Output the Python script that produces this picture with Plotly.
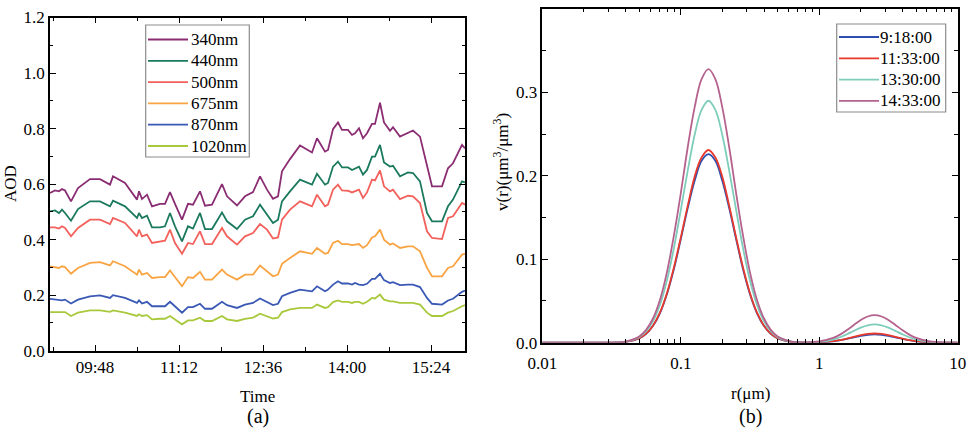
import plotly.graph_objects as go

# ---------------- data: panel (a) ----------------
times = ["09:03", "09:08", "09:12", "09:15", "09:18", "09:24", "09:31", "09:43", "09:53", "10:03",
         "10:06", "10:18", "10:30", "10:32", "10:35", "10:40", "10:45", "10:53", "10:58", "11:03",
         "11:08", "11:15", "11:21", "11:26", "11:33", "11:38", "11:45", "11:55", "12:00", "12:10",
         "12:18", "12:26", "12:33", "12:40", "12:46", "12:51", "12:55", "13:03", "13:13", "13:25",
         "13:30", "13:38", "13:41", "13:46", "13:51", "13:55", "14:01", "14:05", "14:08", "14:12",
         "14:16", "14:20", "14:25", "14:28", "14:33", "14:37", "14:43", "14:46", "14:53", "15:01",
         "15:06", "15:13", "15:20", "15:25", "15:35", "15:41", "15:46", "15:55", "15:58"]

aod_340 = [0.568, 0.577, 0.574, 0.582, 0.577, 0.538, 0.586, 0.618, 0.618, 0.598,
           0.628, 0.604, 0.544, 0.574, 0.546, 0.562, 0.520, 0.529, 0.529, 0.571,
           0.529, 0.472, 0.529, 0.526, 0.574, 0.522, 0.526, 0.600, 0.556, 0.523,
           0.556, 0.571, 0.628, 0.580, 0.547, 0.556, 0.646, 0.690, 0.739, 0.714,
           0.765, 0.717, 0.723, 0.798, 0.822, 0.795, 0.795, 0.777, 0.783, 0.801,
           0.765, 0.783, 0.817, 0.817, 0.893, 0.822, 0.792, 0.805, 0.771, 0.786,
           0.793, 0.771, 0.663, 0.592, 0.592, 0.657, 0.675, 0.741, 0.729]

aod_440 = [0.502, 0.505, 0.496, 0.508, 0.496, 0.468, 0.510, 0.538, 0.538, 0.520,
           0.540, 0.520, 0.478, 0.496, 0.478, 0.486, 0.444, 0.444, 0.448, 0.496,
           0.448, 0.394, 0.448, 0.440, 0.496, 0.438, 0.438, 0.498, 0.466, 0.438,
           0.472, 0.484, 0.526, 0.490, 0.460, 0.472, 0.538, 0.574, 0.616, 0.598,
           0.637, 0.598, 0.604, 0.663, 0.681, 0.660, 0.660, 0.651, 0.657, 0.663,
           0.634, 0.651, 0.699, 0.699, 0.741, 0.678, 0.663, 0.666, 0.628, 0.642,
           0.640, 0.610, 0.496, 0.466, 0.466, 0.520, 0.544, 0.610, 0.606]

aod_500 = [0.444, 0.444, 0.440, 0.448, 0.442, 0.412, 0.442, 0.472, 0.472, 0.456,
           0.478, 0.460, 0.412, 0.436, 0.412, 0.418, 0.388, 0.394, 0.396, 0.436,
           0.388, 0.349, 0.388, 0.384, 0.430, 0.384, 0.384, 0.442, 0.412, 0.382,
           0.412, 0.424, 0.456, 0.436, 0.404, 0.408, 0.472, 0.508, 0.538, 0.520,
           0.562, 0.520, 0.526, 0.580, 0.598, 0.577, 0.576, 0.570, 0.574, 0.580,
           0.550, 0.570, 0.616, 0.613, 0.649, 0.592, 0.574, 0.580, 0.546, 0.558,
           0.556, 0.532, 0.430, 0.406, 0.402, 0.478, 0.484, 0.532, 0.526]

aod_675 = [0.304, 0.302, 0.298, 0.304, 0.301, 0.277, 0.298, 0.316, 0.319, 0.307,
           0.322, 0.304, 0.274, 0.292, 0.274, 0.280, 0.262, 0.265, 0.265, 0.289,
           0.265, 0.232, 0.265, 0.262, 0.284, 0.256, 0.256, 0.292, 0.274, 0.256,
           0.274, 0.274, 0.307, 0.286, 0.268, 0.274, 0.313, 0.334, 0.358, 0.349,
           0.370, 0.349, 0.352, 0.388, 0.396, 0.384, 0.384, 0.380, 0.382, 0.384,
           0.370, 0.380, 0.408, 0.412, 0.436, 0.400, 0.382, 0.386, 0.370, 0.376,
           0.376, 0.358, 0.298, 0.268, 0.268, 0.298, 0.304, 0.346, 0.349]

aod_870 = [0.187, 0.184, 0.184, 0.181, 0.184, 0.170, 0.184, 0.196, 0.199, 0.190,
           0.200, 0.190, 0.172, 0.181, 0.170, 0.176, 0.160, 0.160, 0.160, 0.176,
           0.160, 0.137, 0.157, 0.157, 0.169, 0.151, 0.151, 0.176, 0.164, 0.154,
           0.166, 0.172, 0.188, 0.176, 0.164, 0.169, 0.196, 0.208, 0.220, 0.214,
           0.232, 0.214, 0.220, 0.238, 0.250, 0.242, 0.242, 0.238, 0.244, 0.238,
           0.236, 0.241, 0.259, 0.259, 0.277, 0.254, 0.244, 0.247, 0.236, 0.238,
           0.238, 0.229, 0.190, 0.169, 0.166, 0.181, 0.187, 0.212, 0.217]

aod_1020 = [0.139, 0.139, 0.137, 0.137, 0.139, 0.125, 0.137, 0.145, 0.145, 0.140,
            0.145, 0.137, 0.125, 0.131, 0.125, 0.128, 0.113, 0.115, 0.115, 0.125,
            0.113, 0.095, 0.109, 0.109, 0.119, 0.107, 0.107, 0.125, 0.113, 0.107,
            0.115, 0.119, 0.133, 0.125, 0.116, 0.119, 0.139, 0.149, 0.154, 0.154,
            0.166, 0.154, 0.157, 0.175, 0.181, 0.176, 0.176, 0.172, 0.176, 0.176,
            0.169, 0.176, 0.190, 0.188, 0.202, 0.184, 0.178, 0.178, 0.172, 0.172,
            0.172, 0.166, 0.137, 0.125, 0.125, 0.137, 0.143, 0.160, 0.164]

wave_names = ["340nm", "440nm", "500nm", "675nm", "870nm", "1020nm"]
time_ticks = ["09:48", "11:12", "12:36", "14:00", "15:24"]
time_minor = ["09:06", "10:30", "11:54", "13:18", "14:42"]
aod_ticks = [0.0, 0.2, 0.4, 0.6, 0.8, 1.0, 1.2]

# ---------------- data: panel (b) ----------------
r_um = [0.01, 0.0158, 0.0251, 0.0316, 0.0398, 0.0501, 0.0562, 0.0631, 0.0708, 0.0794,
        0.0891, 0.1, 0.1122, 0.1259, 0.1413, 0.1585, 0.1778, 0.1995, 0.2239, 0.2512,
        0.2818, 0.3162, 0.3548, 0.3981, 0.4467, 0.5012, 0.631, 0.7943, 1.0, 1.259,
        1.413, 1.585, 1.778, 1.995, 2.239, 2.512, 2.818, 3.162, 3.548, 3.981,
        4.467, 5.012, 6.31, 7.943, 10.0]

v_0918 = [0, 0, 0, 0.0001, 0.0010, 0.0052, 0.0106, 0.0202, 0.0355, 0.0581,
          0.0879, 0.124, 0.161, 0.194, 0.218, 0.226, 0.218, 0.194, 0.161, 0.124,
          0.0879, 0.0581, 0.0355, 0.0202, 0.0106, 0.0052, 0.0010, 0.0002, 0.0004, 0.0017,
          0.0030, 0.0046, 0.0064, 0.0082, 0.0095, 0.010, 0.0095, 0.0082, 0.0064, 0.0046,
          0.0030, 0.0017, 0.0004, 0.0001, 0]
v_1133 = [0, 0, 0, 0.0001, 0.0010, 0.0053, 0.0109, 0.0207, 0.0363, 0.0594,
          0.0899, 0.126, 0.164, 0.199, 0.222, 0.231, 0.222, 0.199, 0.164, 0.126,
          0.0899, 0.0594, 0.0363, 0.0207, 0.0109, 0.0053, 0.0010, 0.0002, 0.0005, 0.0019,
          0.0032, 0.0050, 0.0071, 0.0091, 0.0105, 0.011, 0.0105, 0.0091, 0.0071, 0.0050,
          0.0032, 0.0019, 0.0005, 0.0001, 0]
v_1330 = [0, 0, 0, 0.0002, 0.0013, 0.0067, 0.0136, 0.0259, 0.0455, 0.0745,
          0.113, 0.159, 0.206, 0.249, 0.279, 0.290, 0.279, 0.249, 0.206, 0.159,
          0.113, 0.0745, 0.0455, 0.0259, 0.0136, 0.0067, 0.0013, 0.0004, 0.0010, 0.0038,
          0.0065, 0.0101, 0.0142, 0.0181, 0.0209, 0.022, 0.0209, 0.0181, 0.0142, 0.0101,
          0.0065, 0.0038, 0.0010, 0.0002, 0]
v_1433 = [0, 0, 0, 0.0002, 0.0014, 0.0075, 0.0154, 0.0293, 0.0515, 0.0843,
          0.128, 0.179, 0.234, 0.282, 0.316, 0.328, 0.316, 0.282, 0.234, 0.179,
          0.128, 0.0843, 0.0515, 0.0293, 0.0154, 0.0075, 0.0014, 0.0005, 0.0015, 0.0057,
          0.0097, 0.0151, 0.0213, 0.0272, 0.0314, 0.033, 0.0314, 0.0272, 0.0213, 0.0151,
          0.0097, 0.0057, 0.0015, 0.0003, 0]

psd_names = ["9:18:00", "11:33:00", "13:30:00", "14:33:00"]
r_ticks = [0.01, 0.1, 1, 10]
r_tick_text = ["0.01", "0.1", "1", "10"]
v_ticks = [0.0, 0.1, 0.2, 0.3, 0.4]

# ---------------- styling ----------------
W, H = 969, 431
FONT = "Liberation Serif, Times New Roman, Times, DejaVu Serif, serif"
FS = 17


def fx(p):
    return p / W


def fy(p):
    return 1 - p / H


wave_colors = ["#8a2d72", "#1b7a5e", "#f2615c", "#f9a443", "#3a59b4", "#a9c93c"]
psd_colors = ["#2d4eb0", "#e83a2c", "#7ecdbb", "#b5628e"]

D = "2000-01-01 "
fig = go.Figure()

for name, vals, col in zip(wave_names,
                           [aod_340, aod_440, aod_500, aod_675, aod_870, aod_1020],
                           wave_colors):
    fig.add_trace(go.Scatter(x=[D + t for t in times], y=vals, mode="lines", name=name,
                             line=dict(color=col, width=1.8), xaxis="x", yaxis="y",
                             showlegend=False))

for name, vals, col in zip(psd_names, [v_0918, v_1133, v_1330, v_1433], psd_colors):
    fig.add_trace(go.Scatter(x=r_um, y=vals, mode="lines", name=name,
                             line=dict(color=col, width=1.8, shape="spline", smoothing=1.0),
                             xaxis="x2", yaxis="y2", showlegend=False))

axis_common = dict(showline=True, linecolor="black", linewidth=1.5, mirror="allticks",
                   ticks="inside", ticklen=6, tickwidth=1.3, tickcolor="black",
                   showgrid=False, zeroline=False, automargin=False,
                   tickfont=dict(family=FONT, size=FS, color="black"))
minor_common = dict(ticks="inside", ticklen=3.5, tickwidth=1.3, tickcolor="black",
                    showgrid=False)

fig.update_layout(
    width=W, height=H,
    margin=dict(l=0, r=0, t=0, b=0),
    paper_bgcolor="white", plot_bgcolor="white",
    font=dict(family=FONT, size=FS, color="black"),
    showlegend=False,
    xaxis=dict(axis_common, type="date", domain=[fx(50), fx(465)], anchor="y",
               range=[D + "09:03", D + "15:58"],
               tickmode="array", tickvals=[D + t for t in time_ticks], ticktext=time_ticks,
               minor=dict(minor_common, tickmode="array",
                          tickvals=[D + t for t in time_minor])),
    yaxis=dict(axis_common, domain=[fy(350.7), fy(17.5)], anchor="x",
               range=[0, 1.2], tickmode="array", tickvals=aod_ticks, tickformat=".1f",
               minor=dict(minor_common, dtick=0.1)),
    xaxis2=dict(axis_common, type="log", domain=[fx(542.3), fx(957.7)], anchor="y2",
                range=[-2, 1], tickmode="array", tickvals=r_ticks, ticktext=r_tick_text,
                ticklabelstandoff=4,
                minor=dict(minor_common, tickmode="array",
                           tickvals=[m * 10 ** e for e in (-2, -1, 0) for m in range(2, 10)])),
    yaxis2=dict(axis_common, domain=[fy(342.7), fy(9)], anchor="x2",
                range=[0, 0.4], tickmode="array", tickvals=v_ticks, tickformat=".1f",
                minor=dict(minor_common, dtick=0.05)),
)


# ---- legends drawn as boxes, line samples and text (paper coordinates) ----
def draw_legend(names, colors, box, line_x, text_x, y0, step):
    x0, y_top, x1, y_bot = box
    fig.add_shape(type="rect", xref="paper", yref="paper",
                  x0=fx(x0), x1=fx(x1), y0=fy(y_bot), y1=fy(y_top),
                  line=dict(color="#8c8c8c", width=1.2), fillcolor="white", layer="above")
    for i, (nm, col) in enumerate(zip(names, colors)):
        yy = y0 + i * step
        fig.add_shape(type="line", xref="paper", yref="paper",
                      x0=fx(line_x[0]), x1=fx(line_x[1]), y0=fy(yy), y1=fy(yy),
                      line=dict(color=col, width=1.8), layer="above")
        fig.add_annotation(xref="paper", yref="paper", x=fx(text_x), y=fy(yy),
                           xanchor="left", yanchor="middle", showarrow=False, text=nm,
                           font=dict(family=FONT, size=FS, color="black"))


draw_legend(wave_names, wave_colors, (145.7, 25, 249.3, 157), (148, 188), 189, 39.5, 21.3)
draw_legend(psd_names, psd_colors, (836.7, 24, 945.7, 112), (839, 879), 878, 37, 21.3)

ann = dict(xref="paper", yref="paper", showarrow=False, xanchor="center", yanchor="middle",
           font=dict(family=FONT, size=FS, color="black"))
fig.add_annotation(ann, text="AOD", x=fx(10), y=fy(184), textangle=-90)
fig.add_annotation(ann, text="Time", x=fx(257.5), y=fy(396))
fig.add_annotation(ann, text="(a)", x=fx(257.5), y=fy(416), font=dict(family=FONT, size=20))
fig.add_annotation(ann, text="v(r)(μm<sup>3</sup>/μm<sup>3</sup>)", x=fx(501), y=fy(162),
                   textangle=-90)
fig.add_annotation(ann, text="r(μm)", x=fx(750), y=fy(393))
fig.add_annotation(ann, text="(b)", x=fx(750), y=fy(416), font=dict(family=FONT, size=20))

fig.write_html("out.html", config={"displayModeBar": False},
               post_script="document.body.style.margin='0';document.body.style.padding='0';")
